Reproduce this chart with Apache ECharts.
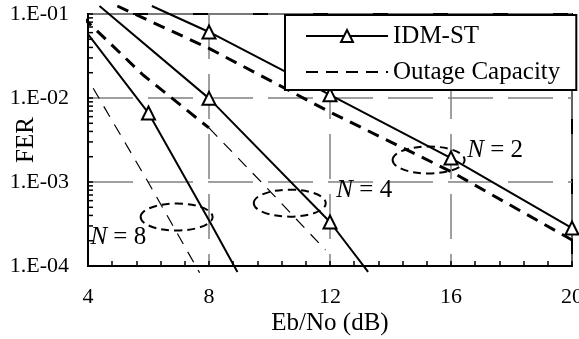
<!DOCTYPE html>
<html><head><meta charset="utf-8">
<script src="https://cdn.jsdelivr.net/npm/echarts@6/dist/echarts.min.js"></script>
<style>html,body{margin:0;padding:0;background:#fff}#c{width:579px;height:339px}</style>
</head><body><div id="c"></div>
<script>
const FONT = "'Liberation Serif','Times New Roman',serif";

// axis ticks
const xTickValues = [4, 8, 12, 16, 20];
const yTickValues = [0.0001, 0.001, 0.01, 0.1];
const yTickLabels = ['1.E-04', '1.E-03', '1.E-02', '1.E-01'];

// N = 2
const n2IdmX = [6.11, 8, 12, 16, 20];
const n2IdmY = [0.1245, 0.0611, 0.0109, 0.00193, 0.000283];
const n2IdmMark = [0, 1, 1, 1, 1];
const n2OutX = [4.97, 8, 12, 16, 20];
const n2OutY = [0.1245, 0.039, 0.0068, 0.00133, 0.000204];
// N = 4
const n4IdmX = [4.38, 8, 12, 13.26];
const n4IdmY = [0.1245, 0.0099, 0.000334, 0.000085];
const n4IdmMark = [0, 1, 1, 0];
const n4OutX = [3.82, 5.82, 8];
const n4OutY = [0.092, 0.0188, 0.0044];
const n4OutTailX = [8, 9.76, 11.85];
const n4OutTailY = [0.0044, 0.00097, 0.000155];
// N = 8
const n8IdmX = [3.82, 6, 8, 8.94];
const n8IdmY = [0.07, 0.00662, 0.00035, 0.000085];
const n8IdmMark = [0, 1, 0, 0];
const n8OutX = [3.82, 6, 7.69];
const n8OutY = [0.0215, 0.00098, 0.000083];

// annotations (data coordinates)
const annoLabels = ['N = 2', 'N = 4', 'N = 8'];
const annoLabelX = [16.54, 12.21, 4.08];
const annoLabelY = [0.0024, 0.00080, 0.00022];
const ellipseX = [15.26, 10.67, 6.93];
const ellipseY = [0.00183, 0.00056, 0.000383];

function pts(xs, ys, marks) {
  return xs.map((x, i) => marks ? {value: [x, ys[i]], symbol: marks[i] ? 'triangle' : 'none'} : [x, ys[i]]);
}
const solid = {color: '#000', width: 2, type: 'solid'};
const thickDash = {color: '#000', width: 3, type: [12, 8]};
const thinDash = {color: '#000', width: 1.2, type: [12, 9]};
function idm(xs, ys, marks) {
  return {name: 'IDM-ST', type: 'line', data: pts(xs, ys, marks), symbol: 'triangle', symbolSize: 13,
    itemStyle: {color: '#fff', borderColor: '#000', borderWidth: 2}, lineStyle: solid,
    clip: false, silent: true, animation: false, z: 3};
}
function outage(xs, ys, style) {
  return {name: 'Outage Capacity', type: 'line', data: pts(xs, ys), symbol: 'circle', showSymbol: false,
    itemStyle: {color: 'rgba(0,0,0,0)', borderWidth: 0}, lineStyle: style, clip: false, silent: true, animation: false, z: 2};
}

const chart = echarts.init(document.getElementById('c'));
const option = {
  backgroundColor: '#fff',
  animation: false,
  grid: {left: 88, right: 7, top: 14, bottom: 73, show: true, borderColor: '#000', borderWidth: 2, containLabel: false, outerBoundsMode: 'none'},
  legend: {
    data: ['IDM-ST', 'Outage Capacity'], orient: 'vertical', left: 285, top: 15,
    itemWidth: 82, itemHeight: 15, itemGap: 6, padding: [6, 16, 3, 20],
    backgroundColor: '#fff', borderColor: '#000', borderWidth: 2, borderRadius: 0,
    textStyle: {fontFamily: FONT, fontSize: 25, color: '#000', lineHeight: 30}, z: 10
  },
  xAxis: {
    type: 'value', min: xTickValues[0], max: xTickValues[xTickValues.length - 1], interval: 4,
    name: 'Eb/No (dB)', nameLocation: 'middle', nameGap: 45, nameMoveOverlap: false,
    nameTextStyle: {fontFamily: FONT, fontSize: 25, color: '#000'},
    axisLine: {show: true, lineStyle: {color: '#000', width: 2}},
    axisTick: {show: true, inside: true, length: 5, lineStyle: {color: '#000', width: 1.5}},
    minorTick: {show: true, splitNumber: 5, length: 5, lineStyle: {color: '#000', width: 1.5}},
    axisLabel: {fontFamily: FONT, fontSize: 22, color: '#000', margin: 20},
    splitLine: {show: true, lineStyle: {color: '#808080', width: 1.5, type: [45, 15]}}
  },
  yAxis: {
    type: 'log', logBase: 10, min: yTickValues[0], max: yTickValues[yTickValues.length - 1],
    name: 'FER', nameLocation: 'middle', nameGap: 49, nameRotate: 90, nameMoveOverlap: false,
    nameTextStyle: {fontFamily: FONT, fontSize: 25, color: '#000'},
    axisLine: {show: true, lineStyle: {color: '#000', width: 2}},
    axisTick: {show: true, inside: true, length: 5, lineStyle: {color: '#000', width: 1.5}},
    minorTick: {show: false},
    axisLabel: {fontFamily: FONT, fontSize: 22, color: '#000', margin: 19,
      formatter: v => { const i = yTickValues.findIndex(t => Math.abs(Math.log10(t) - Math.log10(v)) < 1e-6); return i >= 0 ? yTickLabels[i] : ''; }},
    splitLine: {show: true, lineStyle: {color: '#808080', width: 1.5, type: [45, 15]}}
  },
  series: [
    idm(n2IdmX, n2IdmY, n2IdmMark),
    outage(n2OutX, n2OutY, thickDash),
    idm(n4IdmX, n4IdmY, n4IdmMark),
    outage(n4OutX, n4OutY, thickDash),
    outage(n4OutTailX, n4OutTailY, thinDash),
    idm(n8IdmX, n8IdmY, n8IdmMark),
    outage(n8OutX, n8OutY, thinDash)
  ]
};
chart.setOption(option);

// log minor ticks, ellipses and N labels placed through the chart's own scales
const g = [];
const x0 = chart.convertToPixel({gridIndex: 0}, [4, 0.1])[0];
for (let d = -4; d <= -2; d++) {
  for (let k = 2; k <= 9; k++) {
    const y = chart.convertToPixel({gridIndex: 0}, [4, k * Math.pow(10, d)])[1];
    g.push({type: 'line', shape: {x1: x0, y1: y, x2: x0 + 5, y2: y}, style: {stroke: '#000', lineWidth: 1.5}, z: 5, silent: true});
  }
}
ellipseX.forEach((ex, i) => {
  const p = chart.convertToPixel({gridIndex: 0}, [ex, ellipseY[i]]);
  g.push({type: 'ellipse', shape: {cx: p[0], cy: p[1], rx: 36, ry: 13.5},
    style: {fill: null, stroke: '#000', lineWidth: 2, lineDash: [8, 5]}, z: 6, silent: true});
});
annoLabels.forEach((t, i) => {
  const p = chart.convertToPixel({gridIndex: 0}, [annoLabelX[i], annoLabelY[i]]);
  g.push({type: 'text', x: p[0], y: p[1], z: 7, silent: true,
    style: {text: '{i|N}' + t.slice(1), fill: '#000', font: '25px ' + FONT, verticalAlign: 'middle', align: 'left',
      rich: {i: {fontStyle: 'italic', fontFamily: FONT, fontSize: 25, fill: '#000'}}}});
});
chart.setOption({graphic: g});
</script></body></html>
